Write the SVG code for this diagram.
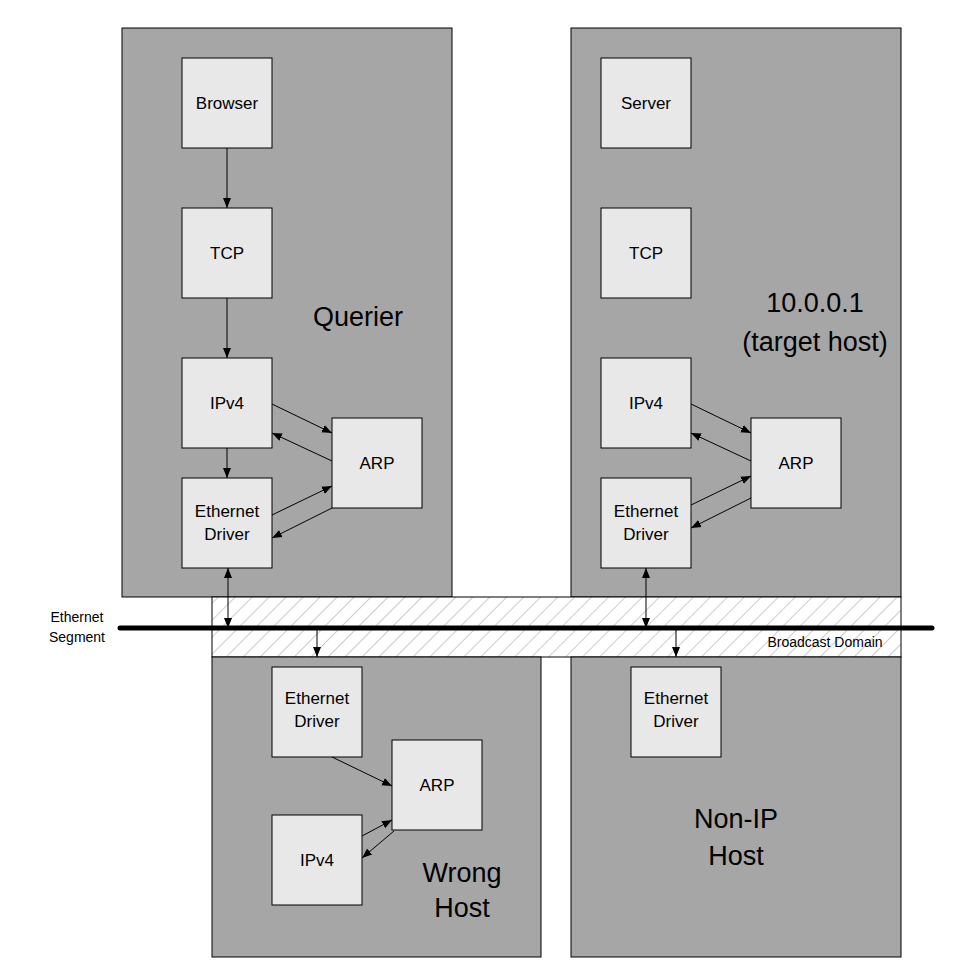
<svg xmlns="http://www.w3.org/2000/svg" width="978" height="976" viewBox="0 0 978 976">
<style>
.host{fill:#a6a6a6;stroke:#000;stroke-width:1}
.n{fill:#e8e8e8;stroke:#000;stroke-width:1}
.t{font-family:"Liberation Sans",Arial,sans-serif;font-size:17px;text-anchor:middle;fill:#000}
.b{font-family:"Liberation Sans",Arial,sans-serif;font-size:27px;text-anchor:middle;fill:#000}
.s{font-family:"Liberation Sans",Arial,sans-serif;font-size:14px;text-anchor:middle;fill:#000}
.c line{stroke:#000;stroke-width:1;marker-end:url(#a)}
</style>
<defs>
<marker id="a" viewBox="0 0 10 10" refX="10" refY="5" markerWidth="10" markerHeight="10" markerUnits="userSpaceOnUse" orient="auto-start-reverse"><path d="M0,1 L10,5 L0,9 z" fill="#000"/></marker>
<pattern id="h" width="12" height="12" patternUnits="userSpaceOnUse" patternTransform="rotate(45)"><rect width="12" height="12" fill="#fff"/><line x1="0" y1="0" x2="0" y2="12" stroke="#bbb" stroke-width="1.5"/></pattern>
</defs>
<rect width="978" height="976" fill="#fff"/>
<g id="querier"><rect class="host" x="122" y="28" width="330" height="569"/><text class="b" x="358" y="326">Querier</text></g>
<g id="target"><rect class="host" x="571" y="28" width="330" height="569"/><text class="b" x="815" y="312">10.0.0.1</text><text class="b" x="815" y="351">(target host)</text></g>
<g id="broadcast"><rect x="212" y="597" width="689" height="60" fill="url(#h)" stroke="#000"/><text class="s" x="825" y="647">Broadcast Domain</text></g>
<g id="wronghost"><rect class="host" x="212" y="657" width="329" height="300"/><text class="b" x="462" y="882">Wrong</text><text class="b" x="462" y="917">Host</text></g>
<g id="nonip"><rect class="host" x="571" y="657" width="330" height="300"/><text class="b" x="736" y="828">Non-IP</text><text class="b" x="736" y="865">Host</text></g>
<g id="segment"><line x1="120" y1="628" x2="932" y2="628" stroke="#000" stroke-width="5" stroke-linecap="round"/><text class="s" x="77" y="622">Ethernet</text><text class="s" x="77" y="642">Segment</text></g>
<g id="q-browser"><rect class="n" x="182" y="58" width="90" height="90"/><text class="t" x="227" y="109">Browser</text></g>
<g id="q-tcp"><rect class="n" x="182" y="208" width="90" height="90"/><text class="t" x="227" y="259">TCP</text></g>
<g id="q-ipv4"><rect class="n" x="182" y="358" width="90" height="90"/><text class="t" x="227" y="409">IPv4</text></g>
<g id="q-eth"><rect class="n" x="182" y="478" width="90" height="90"/><text class="t" x="227" y="517">Ethernet</text><text class="t" x="227" y="540">Driver</text></g>
<g id="q-arp"><rect class="n" x="332" y="418" width="90" height="90"/><text class="t" x="377" y="469">ARP</text></g>
<g id="t-server"><rect class="n" x="601" y="58" width="90" height="90"/><text class="t" x="646" y="109">Server</text></g>
<g id="t-tcp"><rect class="n" x="601" y="208" width="90" height="90"/><text class="t" x="646" y="259">TCP</text></g>
<g id="t-ipv4"><rect class="n" x="601" y="358" width="90" height="90"/><text class="t" x="646" y="409">IPv4</text></g>
<g id="t-eth"><rect class="n" x="601" y="478" width="90" height="90"/><text class="t" x="646" y="517">Ethernet</text><text class="t" x="646" y="540">Driver</text></g>
<g id="t-arp"><rect class="n" x="751" y="418" width="90" height="90"/><text class="t" x="796" y="469">ARP</text></g>
<g id="w-eth"><rect class="n" x="272" y="667" width="90" height="90"/><text class="t" x="317" y="704">Ethernet</text><text class="t" x="317" y="727">Driver</text></g>
<g id="w-arp"><rect class="n" x="392" y="740" width="90" height="90"/><text class="t" x="437" y="791">ARP</text></g>
<g id="w-ipv4"><rect class="n" x="272" y="815" width="90" height="90"/><text class="t" x="317" y="866">IPv4</text></g>
<g id="n-eth"><rect class="n" x="631" y="667" width="90" height="90"/><text class="t" x="676" y="704">Ethernet</text><text class="t" x="676" y="727">Driver</text></g>
<g id="connectors" class="c">
<line x1="227" y1="148" x2="227" y2="208"/>
<line x1="227" y1="298" x2="227" y2="358"/>
<line x1="227" y1="448" x2="227" y2="478"/>
<line x1="272" y1="404" x2="332" y2="433"/>
<line x1="332" y1="461" x2="272" y2="433"/>
<line x1="272" y1="515" x2="332" y2="486"/>
<line x1="332" y1="508" x2="272" y2="538"/>
<line x1="691" y1="404" x2="751" y2="433"/>
<line x1="751" y1="461" x2="691" y2="433"/>
<line x1="691" y1="505" x2="751" y2="476"/>
<line x1="751" y1="498" x2="691" y2="528"/>
<line x1="228" y1="628" x2="228" y2="568" style="marker-start:url(#a)"/>
<line x1="317" y1="628" x2="317" y2="657"/>
<line x1="646" y1="628" x2="646" y2="568" style="marker-start:url(#a)"/>
<line x1="676" y1="628" x2="676" y2="657"/>
<line x1="332" y1="757" x2="392" y2="786"/>
<line x1="362" y1="836" x2="392" y2="820"/>
<line x1="394" y1="831" x2="362" y2="858"/>
</g>
</svg>
